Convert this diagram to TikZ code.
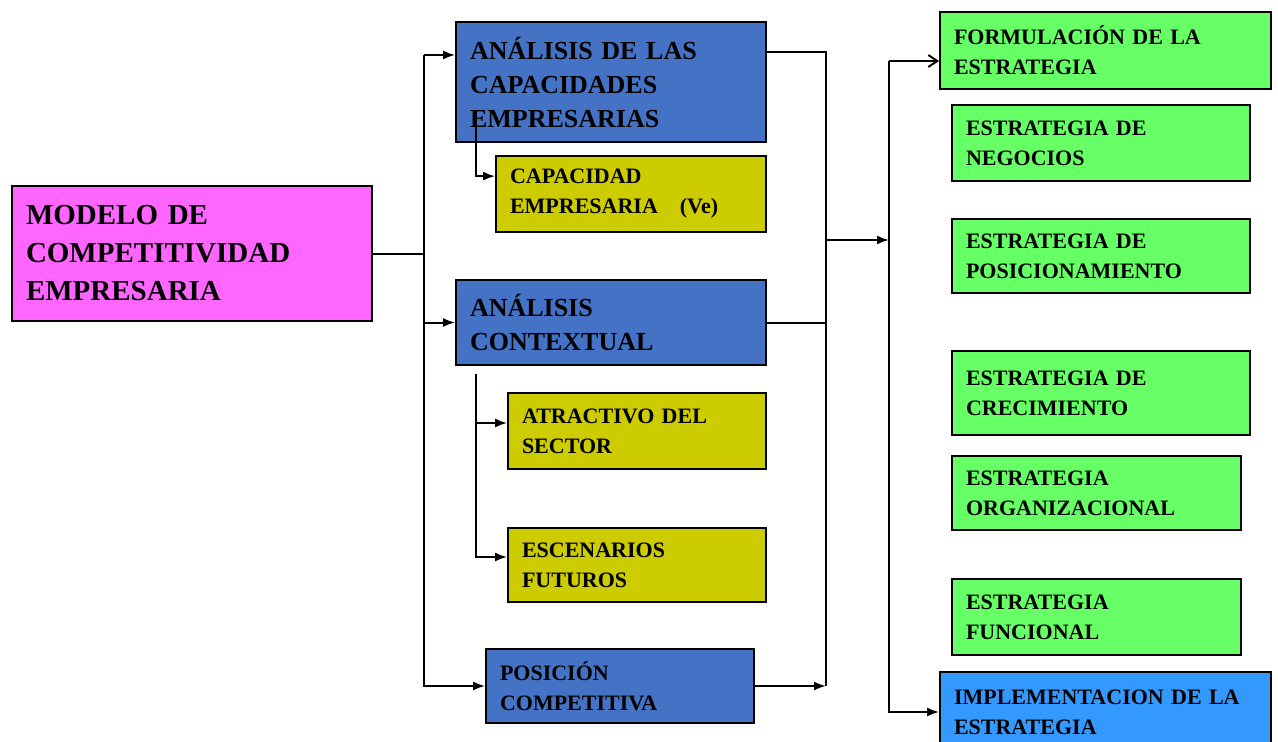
\documentclass[tikz,border=0pt]{standalone}
\usepackage{fontspec}
\setmainfont{Liberation Serif}
\usepackage{tikz}
\usetikzlibrary{arrows.meta}

\definecolor{rosa}{HTML}{FF66FF}
\definecolor{azul}{HTML}{4472C4}
\definecolor{oliva}{HTML}{CCCC00}
\definecolor{verde}{HTML}{66FF66}
\definecolor{celeste}{HTML}{3399FF}

\tikzset{
  caja/.style={draw, line width=1.8pt, align=left, inner xsep=14pt, inner ysep=0pt,
    font=\fontsize{22}{30}\selectfont\bfseries},
  grande/.style={font=\fontsize{26}{34}\selectfont\bfseries},
  flecha/.style={line width=2pt, -{Latex[length=12pt,width=9pt]}},
  linea/.style={line width=2pt}
}

\begin{document}
\begin{tikzpicture}[x=1pt,y=-1pt]
			\useasboundingbox (0,0) rectangle (1278,742);
			
			\node[caja, fill=rosa, font=\fontsize{29}{38}\selectfont\bfseries, text width=332pt, minimum height=135pt](modelo) at (192,253.5){MODELO DE\\COMPETITIVIDAD\\EMPRESARIA};
			
			\node[caja, grande, fill=azul, text width=282pt, minimum height=120pt](capac) at (611,82){ANÁLISIS DE LAS\\CAPACIDADES\\EMPRESARIAS};
			\node[caja, fill=oliva, text width=242pt, minimum height=76pt](ve) at (631,194){CAPACIDAD\\EMPRESARIA\hspace{1em}(Ve)};
			\node[caja, grande, fill=azul, text width=282pt, minimum height=85pt](contexto) at (611,322.5){ANÁLISIS\\CONTEXTUAL};
			\node[caja, fill=oliva, text width=230pt, minimum height=76pt](atractivo) at (637,431){ATRACTIVO DEL\\SECTOR};
			\node[caja, fill=oliva, text width=230pt, minimum height=74pt](escenarios) at (637,565){ESCENARIOS\\FUTUROS};
			\node[caja, fill=azul, text width=240pt, minimum height=74pt](posicion) at (620,686){POSICIÓN\\COMPETITIVA};
			
			\node[caja, fill=verde, text width=303pt, minimum height=77pt](formulacion) at (1105.5,50.5){FORMULACIÓN DE LA\\ESTRATEGIA};
			\node[caja, fill=verde, text width=270pt, minimum height=76pt](negocios) at (1101,143){ESTRATEGIA DE\\NEGOCIOS};
			\node[caja, fill=verde, text width=270pt, minimum height=74pt](posicionam) at (1101,256){ESTRATEGIA DE\\POSICIONAMIENTO};
			\node[caja, fill=verde, text width=270pt, minimum height=84pt](crecimiento) at (1101,393){ESTRATEGIA DE\\CRECIMIENTO};
			\node[caja, fill=verde, text width=261pt, minimum height=74pt](organiz) at (1096.5,493){ESTRATEGIA\\ORGANIZACIONAL};
			\node[caja, fill=verde, text width=261pt, minimum height=76pt](funcional) at (1096.5,617){ESTRATEGIA\\FUNCIONAL};
			\node[caja, fill=celeste, text width=303pt, minimum height=80pt](implem) at (1105.5,712){IMPLEMENTACION DE LA\\ESTRATEGIA};
			
			% tronco izquierdo
			\coordinate (t1) at (424,55);
			\draw[linea] (modelo.east) -- (modelo.east -| t1);
			\draw[flecha] (t1) -- (t1 -| capac.west);
			\draw[flecha] (contexto.west -| t1) -- (contexto.west);
			\draw[flecha] (t1) |- (posicion.west);
			
			\draw[flecha] ([xshift=21pt,yshift=32pt]capac.south west) |- ([yshift=-21pt]ve.north west);
			
			\coordinate (t2) at ([xshift=21pt,yshift=-8pt]contexto.south west);
			\coordinate (a1) at ([yshift=8pt]atractivo.west);
			\coordinate (a2) at ([yshift=8pt]escenarios.west);
			\draw[flecha] (t2) |- (a2);
			\draw[flecha] (a1 -| t2) -- (a1);
			
			% tronco central
			\coordinate (t3) at (826,686);
			\draw[linea] ([yshift=-31pt]capac.north east) -| (t3);
			\draw[linea] (contexto.east) -- (contexto.east -| t3);
			\draw[flecha] (posicion.east) -- (t3);
			
			% tronco derecho
			\coordinate (t4) at (826,240);
			\coordinate (t5) at (889,61);
			\draw[flecha] (t4) -- (t4 -| t5);
			\draw[line width=2pt, -{Straight Barb[length=9pt,width=12pt]}] (t5) -- (t5 -| formulacion.west);
			\draw[flecha] (t5) |- (implem.west);
			
		\end{tikzpicture}
\end{document}
